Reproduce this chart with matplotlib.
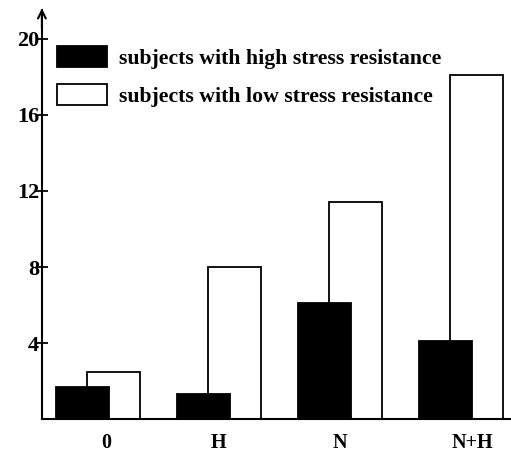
import numpy as np
import matplotlib
matplotlib.use("Agg")
import matplotlib.pyplot as plt

groups = ["0", "H", "N", "N+H"]
high_stress = [1.7, 1.3, 6.1, 4.1]
low_stress = [2.5, 8.0, 11.4, 18.1]
yticks = [4, 8, 12, 16, 20]
label_nudge = [0.07, 0.0, 0.0, 0.09]

plt.rcParams['font.family'] = ['Liberation Serif', 'DejaVu Serif']
plt.rcParams['font.weight'] = 'bold'

fig = plt.figure(figsize=(5.11, 4.54), dpi=100)
ax = fig.add_axes([0.082, 0.077, 0.918, 0.9])

x = np.arange(len(groups))
width = 0.438
off = 0.128

ax.bar(x + off, low_stress, width, color='white', edgecolor='black', lw=1.3,
       label='subjects with low stress resistance', zorder=2)
ax.bar(x - off, high_stress, width, color='black', edgecolor='black', lw=1.3,
       label='subjects with high stress resistance', zorder=3)

ax.set_xlim(-0.463, 3.413)
ax.set_ylim(0, 21.5)

for s in ['top', 'right']:
    ax.spines[s].set_visible(False)
ax.spines['left'].set_linewidth(1.5)
ax.spines['bottom'].set_linewidth(1.5)

ax.set_yticks(yticks)
ax.set_yticklabels([str(v) for v in yticks], fontsize=16, fontweight='bold')
ax.tick_params(axis='y', direction='inout', length=8, width=1.3, pad=-2)
ax.set_xticks(x + np.array(label_nudge))
ax.set_xticklabels(groups, fontsize=14.5, fontweight='bold')
ax.tick_params(axis='x', length=0, pad=10)

ax.annotate('', xy=(0, 1.012), xytext=(0, 0.95), xycoords='axes fraction',
            arrowprops=dict(arrowstyle='->', lw=1.5, color='black',
                            mutation_scale=14))

h, l = ax.get_legend_handles_labels()
ax.legend(h[::-1], l[::-1], loc='upper left', bbox_to_anchor=(0.013, 0.935),
          frameon=False, fontsize=15.7, handlelength=2.3, handleheight=1.1,
          labelspacing=0.72, handletextpad=0.55, borderaxespad=0)

fig.savefig("out.png", dpi=100)
